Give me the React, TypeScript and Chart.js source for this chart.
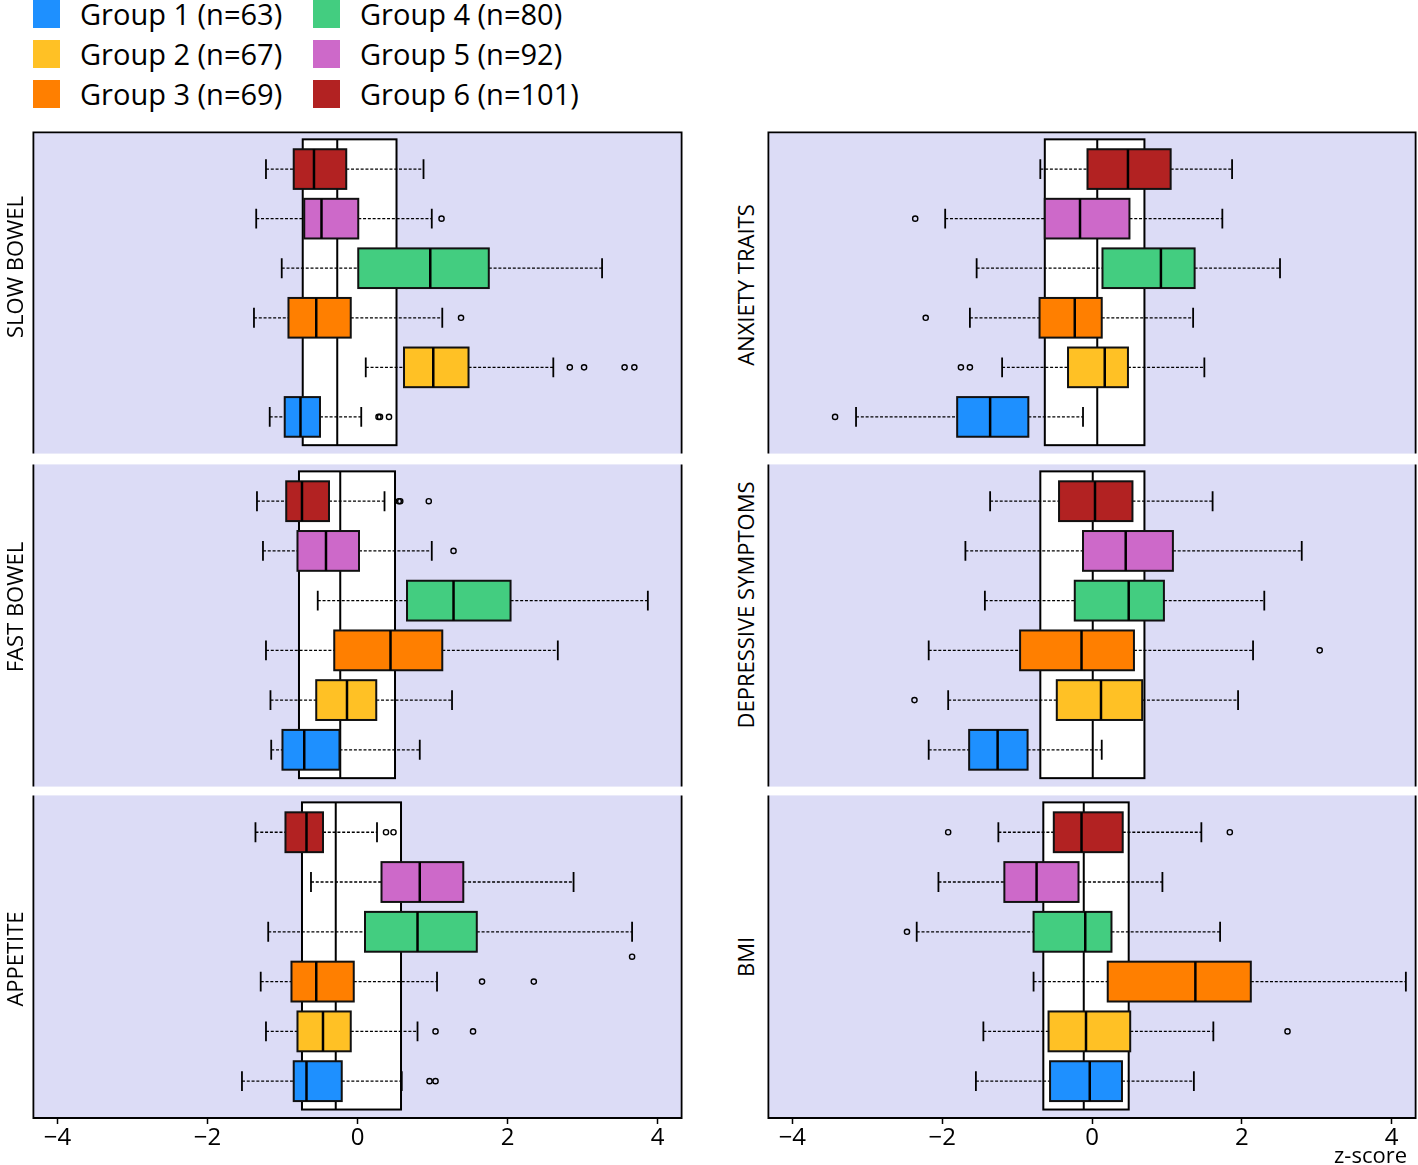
import React, { useEffect, useRef } from "react";
import { Chart, registerables } from "chart.js";

Chart.register(...registerables);

// ---------- data ----------
const GROUPS = ["Group 1", "Group 2", "Group 3", "Group 4", "Group 5", "Group 6"];
const GROUP_N = [63, 67, 69, 80, 92, 101];
const X_TICKS = [-4, -2, 0, 2, 4];
const X_TICK_LABELS = ["\u22124", "\u22122", "0", "2", "4"];
const X_TITLE = "z-score";

// each row: [whisker low, Q1, median, Q3, whisker high] for Group 1..6
const SLOW_BOWEL = [
  [-1.17, -0.97, -0.76, -0.5, 0.05],
  [0.11, 0.62, 1.01, 1.48, 2.61],
  [-1.38, -0.92, -0.55, -0.09, 1.13],
  [-1.01, 0.01, 0.97, 1.75, 3.26],
  [-1.35, -0.71, -0.48, 0.01, 0.99],
  [-1.22, -0.85, -0.58, -0.15, 0.88],
];
const SLOW_BOWEL_REF = [-0.73, -0.27, 0.52];
const SLOW_BOWEL_OUT = [
  [1, 0.28], [1, 0.3], [1, 0.42],
  [2, 2.83], [2, 3.02], [2, 3.56], [2, 3.69],
  [3, 1.38], [5, 1.12],
];

const FAST_BOWEL = [
  [-1.15, -1.0, -0.71, -0.24, 0.83],
  [-1.16, -0.55, -0.14, 0.25, 1.26],
  [-1.22, -0.31, 0.44, 1.13, 2.67],
  [-0.53, 0.66, 1.28, 2.04, 3.87],
  [-1.26, -0.8, -0.42, 0.02, 0.99],
  [-1.34, -0.95, -0.74, -0.38, 0.36],
];
const FAST_BOWEL_REF = [-0.78, -0.23, 0.5];
const FAST_BOWEL_OUT = [[5, 1.28], [6, 0.55], [6, 0.57], [6, 0.95]];

const APPETITE = [
  [-1.54, -0.85, -0.68, -0.21, 0.59],
  [-1.22, -0.8, -0.46, -0.09, 0.8],
  [-1.29, -0.88, -0.55, -0.05, 1.06],
  [-1.19, 0.1, 0.8, 1.59, 3.66],
  [-0.62, 0.32, 0.83, 1.41, 2.88],
  [-1.36, -0.96, -0.68, -0.46, 0.26],
];
const APPETITE_REF = [-0.74, -0.29, 0.58];
const APPETITE_OUT = [
  [1, 0.96], [1, 1.04], [2, 1.04], [2, 1.54],
  [3, 1.66], [3, 2.35], [3.5, 3.66], [6, 0.38], [6, 0.48],
];

const ANXIETY = [
  [-3.15, -1.8, -1.36, -0.85, -0.12],
  [-1.2, -0.32, 0.17, 0.48, 1.5],
  [-1.63, -0.7, -0.23, 0.13, 1.35],
  [-1.54, 0.14, 0.92, 1.37, 2.51],
  [-1.96, -0.63, -0.16, 0.5, 1.74],
  [-0.69, -0.06, 0.48, 1.05, 1.87],
];
const ANXIETY_REF = [-0.63, 0.07, 0.7];
const ANXIETY_OUT = [[1, -3.43], [2, -1.75], [2, -1.63], [3, -2.22], [5, -2.36]];

const DEPRESSIVE = [
  [-2.18, -1.64, -1.26, -0.86, 0.13],
  [-1.92, -0.47, 0.12, 0.67, 1.95],
  [-2.18, -0.96, -0.14, 0.56, 2.15],
  [-1.43, -0.23, 0.49, 0.96, 2.3],
  [-1.69, -0.12, 0.45, 1.08, 2.8],
  [-1.36, -0.44, 0.04, 0.54, 1.61],
];
const DEPRESSIVE_REF = [-0.69, 0.01, 0.7];
const DEPRESSIVE_OUT = [[2, -2.37], [3, 3.04]];

const BMI = [
  [-1.55, -0.56, -0.03, 0.4, 1.36],
  [-1.45, -0.58, -0.08, 0.51, 1.62],
  [-0.78, 0.21, 1.38, 2.12, 4.19],
  [-2.34, -0.78, -0.09, 0.26, 1.71],
  [-2.05, -1.17, -0.74, -0.18, 0.94],
  [-1.25, -0.51, -0.14, 0.41, 1.46],
];
const BMI_REF = [-0.65, -0.11, 0.49];
const BMI_OUT = [[2, 2.61], [4, -2.47], [6, -1.92], [6, 1.84]];

// ---------- style / layout ----------
const COLORS = ["#1E90FF", "#FFC125", "#FF7F00", "#43CD80", "#CD69C9", "#B22222"];
const BG = "#DCDCF6";
const FONT = "'Open Sans', 'Noto Sans', sans-serif";
const X_MIN = -4.32;
const X_MAX = 4.32;
const Y_MIN = 0.26;
const Y_MAX = 6.74;
const REF_SPAN = [0.43, 6.6];
const BOX_HALF = 0.4;
const CAP_HALF = 0.2;
const PAD = 4;
const AXIS_H = 44;

const COLS = [
  { x: 32, w: 651, labelX: 14 },
  { x: 767, w: 650, labelX: 745 },
];
const ROWS = [
  { y: 131, h: 324 },
  { y: 463, h: 325 },
  { y: 794, h: 324 },
];

const PANELS = [
  { title: "SLOW BOWEL", stats: SLOW_BOWEL, refBox: SLOW_BOWEL_REF, out: SLOW_BOWEL_OUT, col: 0, row: 0, labelY: 267 },
  { title: "FAST BOWEL", stats: FAST_BOWEL, refBox: FAST_BOWEL_REF, out: FAST_BOWEL_OUT, col: 0, row: 1, labelY: 607 },
  { title: "APPETITE", stats: APPETITE, refBox: APPETITE_REF, out: APPETITE_OUT, col: 0, row: 2, labelY: 959 },
  { title: "ANXIETY TRAITS", stats: ANXIETY, refBox: ANXIETY_REF, out: ANXIETY_OUT, col: 1, row: 0, labelY: 285 },
  { title: "DEPRESSIVE SYMPTOMS", stats: DEPRESSIVE, refBox: DEPRESSIVE_REF, out: DEPRESSIVE_OUT, col: 1, row: 1, labelY: 605 },
  { title: "BMI", stats: BMI, refBox: BMI_REF, out: BMI_OUT, col: 1, row: 2, labelY: 957 },
];

function BoxPanel({ p }: { p: any }) {
  const ref = useRef<HTMLCanvasElement | null>(null);
  const col = COLS[p.col];
  const row = ROWS[p.row];
  const isTop = p.row === 0;
  const isBottom = p.row === 2;
  const cw = col.w + 2 * PAD;
  const ch = row.h + PAD + (isBottom ? AXIS_H : PAD);

  useEffect(() => {
    const canvas = ref.current;
    if (!canvas) return;
    const stats: number[][] = p.stats;
    const refBox: number[] = p.refBox;

    const boxPlugin = {
      id: "boxDrawer",
      beforeDatasetsDraw(chart: any) {
        const { ctx, chartArea: a } = chart;
        const xs = chart.scales.x;
        const ys = chart.scales.y;
        const X = (v: number) => xs.getPixelForValue(v);
        const Y = (v: number) => ys.getPixelForValue(v);
        ctx.save();
        ctx.fillStyle = BG;
        ctx.fillRect(a.left, a.top, a.right - a.left, a.bottom - a.top);

        // reference (whole sample) box
        const rx1 = X(refBox[0]);
        const rx2 = X(refBox[2]);
        const ry1 = Y(REF_SPAN[1]);
        const ry2 = Y(REF_SPAN[0]);
        ctx.fillStyle = "#ffffff";
        ctx.fillRect(rx1, ry1, rx2 - rx1, ry2 - ry1);
        ctx.strokeStyle = "#000";
        ctx.lineWidth = 2;
        ctx.strokeRect(rx1, ry1, rx2 - rx1, ry2 - ry1);
        ctx.beginPath();
        ctx.moveTo(X(refBox[1]), ry1);
        ctx.lineTo(X(refBox[1]), ry2);
        ctx.stroke();

        stats.forEach((s, i) => {
          const g = i + 1;
          const yc = Y(g);
          // whiskers
          ctx.strokeStyle = "#000";
          ctx.lineWidth = 1.3;
          ctx.setLineDash([3, 1.8]);
          ctx.beginPath();
          ctx.moveTo(X(s[0]), yc);
          ctx.lineTo(X(s[1]), yc);
          ctx.moveTo(X(s[3]), yc);
          ctx.lineTo(X(s[4]), yc);
          ctx.stroke();
          ctx.setLineDash([]);
          // caps
          ctx.lineWidth = 1.8;
          ctx.beginPath();
          ctx.moveTo(X(s[0]), Y(g + CAP_HALF));
          ctx.lineTo(X(s[0]), Y(g - CAP_HALF));
          ctx.moveTo(X(s[4]), Y(g + CAP_HALF));
          ctx.lineTo(X(s[4]), Y(g - CAP_HALF));
          ctx.stroke();
          // box
          const bx1 = X(s[1]);
          const bx2 = X(s[3]);
          const by1 = Y(g + BOX_HALF);
          const by2 = Y(g - BOX_HALF);
          ctx.fillStyle = COLORS[i];
          ctx.fillRect(bx1, by1, bx2 - bx1, by2 - by1);
          ctx.lineWidth = 2;
          ctx.strokeStyle = "#111";
          ctx.strokeRect(bx1, by1, bx2 - bx1, by2 - by1);
          // median
          ctx.lineWidth = 2.5;
          ctx.strokeStyle = "#000";
          ctx.beginPath();
          ctx.moveTo(X(s[2]), by1);
          ctx.lineTo(X(s[2]), by2);
          ctx.stroke();
        });
        ctx.restore();
      },
      afterDraw(chart: any) {
        const { ctx, chartArea: a } = chart;
        ctx.save();
        ctx.strokeStyle = "#000";
        ctx.lineWidth = 1.8;
        ctx.beginPath();
        ctx.moveTo(a.left, a.top - (isTop ? 1 : 0));
        ctx.lineTo(a.left, a.bottom + (isBottom ? 1 : 0));
        ctx.moveTo(a.right, a.top - (isTop ? 1 : 0));
        ctx.lineTo(a.right, a.bottom + (isBottom ? 1 : 0));
        if (isTop) {
          ctx.moveTo(a.left, a.top);
          ctx.lineTo(a.right, a.top);
        }
        if (isBottom) {
          ctx.moveTo(a.left, a.bottom);
          ctx.lineTo(a.right, a.bottom);
        }
        ctx.stroke();
        ctx.restore();
      },
    };

    const xScale: any = {
      type: "linear",
      min: X_MIN,
      max: X_MAX,
      display: isBottom,
      afterBuildTicks: (s: any) => {
        s.ticks = X_TICKS.map((v) => ({ value: v }));
      },
      grid: {
        drawOnChartArea: false,
        drawTicks: true,
        tickLength: 6,
        tickColor: "#000",
        tickWidth: 1.5,
      },
      border: { display: false },
      ticks: {
        autoSkip: false,
        maxRotation: 0,
        padding: 0,
        color: "#000",
        font: { family: FONT, size: 24 },
        callback: (v: any) => {
          const k = X_TICKS.indexOf(Number(v));
          return k >= 0 ? X_TICK_LABELS[k] : "";
        },
      },
    };
    if (isBottom) {
      xScale.afterFit = (s: any) => {
        s.height = AXIS_H;
      };
    }

    const chart = new Chart(canvas, {
      type: "scatter",
      data: {
        datasets: [
          {
            label: "outliers",
            data: p.out.map((o: number[]) => ({ x: o[1], y: o[0] })),
            pointRadius: 2.6,
            pointBorderWidth: 1.4,
            pointBorderColor: "#000",
            pointBackgroundColor: "rgba(0,0,0,0)",
          },
        ],
      },
      options: {
        responsive: false,
        maintainAspectRatio: false,
        animation: false,
        devicePixelRatio: 1,
        layout: { padding: { left: PAD, right: PAD, top: PAD, bottom: isBottom ? 0 : PAD } },
        plugins: { legend: { display: false }, tooltip: { enabled: false } },
        scales: {
          x: xScale,
          y: { type: "linear", min: Y_MIN, max: Y_MAX, display: false },
        },
      },
      plugins: [boxPlugin],
    } as any);
    return () => chart.destroy();
  }, []);

  return (
    <canvas
      ref={ref}
      width={cw}
      height={ch}
      style={{ position: "absolute", left: col.x - PAD, top: row.y - PAD, width: cw, height: ch }}
    />
  );
}

export default function App() {
  return (
    <div
      style={{
        position: "absolute",
        left: 0,
        top: 0,
        width: 1418,
        height: 1165,
        background: "#fff",
        fontFamily: FONT,
        color: "#000",
        overflow: "hidden",
      }}
    >
      {GROUPS.map((g, i) => {
        const c = Math.floor(i / 3);
        const r = i % 3;
        const cy = 14 + r * 40;
        const sx = c === 0 ? 33 : 313;
        return (
          <React.Fragment key={g}>
            <div
              style={{
                position: "absolute",
                left: sx,
                top: cy - 14,
                width: 27,
                height: 28,
                background: COLORS[i],
              }}
            />
            <div
              style={{
                position: "absolute",
                left: sx + 47,
                top: cy - 20,
                height: 40,
                lineHeight: "40px",
                fontSize: 29,
                whiteSpace: "nowrap",
              }}
            >
              {`${g} (n=${GROUP_N[i]})`}
            </div>
          </React.Fragment>
        );
      })}

      {PANELS.map((p) => (
        <BoxPanel key={p.title} p={p} />
      ))}

      {PANELS.map((p) => (
        <div
          key={p.title + "-lab"}
          style={{
            position: "absolute",
            left: COLS[p.col].labelX,
            top: p.labelY,
            transform: "translate(-50%, -50%) rotate(-90deg)",
            fontSize: 22,
            lineHeight: "24px",
            whiteSpace: "nowrap",
          }}
        >
          {p.title}
        </div>
      ))}

      <div
        style={{
          position: "absolute",
          left: 1250,
          width: 157,
          top: 1141,
          textAlign: "right",
          fontSize: 22,
          lineHeight: "26px",
          whiteSpace: "nowrap",
        }}
      >
        {X_TITLE}
      </div>
    </div>
  );
}
